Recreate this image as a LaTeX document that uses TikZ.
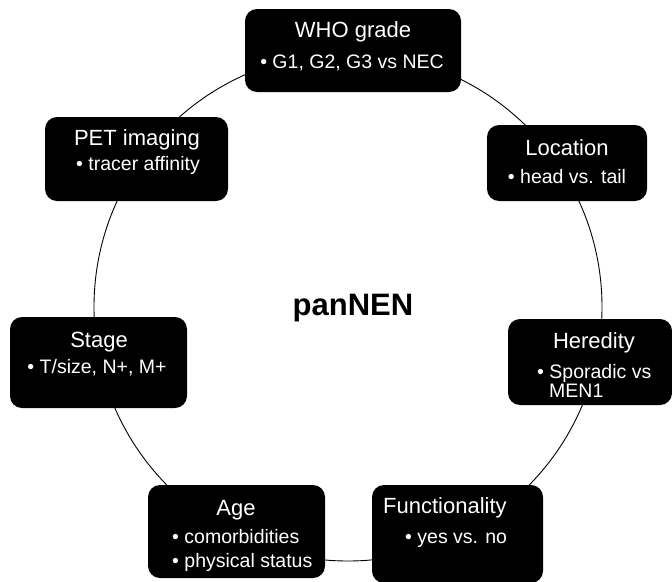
\documentclass[tikz,border=0pt]{standalone}
\usepackage{fontspec}
\setmainfont{Liberation Sans}
\begin{document}
\begin{tikzpicture}[x=1pt,y=-1pt,
  card/.style={fill=black,draw=none,rounded corners=12pt,inner sep=0pt},
  ttl/.style={text=white,inner sep=0pt,font=\fontsize{19.5}{22}\selectfont},
  head/.style={text=white,inner sep=0pt,font=\fontsize{22}{25}\selectfont},
  ring/.style={draw=black,line width=0.9pt}]
\useasboundingbox (0,0) rectangle (672,581);
\coordinate (ctr) at (348,307);
\draw[ring] (ctr) circle[radius=254pt];
\node[text=black,inner sep=0pt,font=\bfseries\fontsize{31}{34}\selectfont,anchor=base] (pan) at (353,315) {panNEN};
% boxes
\node[card,minimum width=216pt,minimum height=83pt] (who) at (353,50.5) {};
\node[card,minimum width=160pt,minimum height=76pt] (loc) at (567,163) {};
\node[card,minimum width=164pt,minimum height=86pt] (her) at (590,362) {};
\node[card,minimum width=171pt,minimum height=98pt] (fun) at (457.5,534) {};
\node[card,minimum width=177pt,minimum height=93pt] (age) at (236.5,531.5) {};
\node[card,minimum width=177pt,minimum height=91pt] (sta) at (98.5,362.5) {};
\node[card,minimum width=183pt,minimum height=84pt] (pet) at (136.5,159) {};
% texts
\node[head,anchor=base] (who1) at (353,37) {WHO grade};
\node[ttl,anchor=base] (who2) at (352,68) {• G1, G2, G3 vs NEC};
\node[head,anchor=base] (loc1) at (567,155) {Location};
\node[ttl,anchor=base] (loc2) at (567,183) {• head vs. tail};
\node[head,anchor=base] (her1) at (594,348) {Heredity};
\node[ttl,anchor=base west] (her2) at (537,378) {• Sporadic vs};
\node[ttl,anchor=base west] (her3) at (549,397) {MEN1};
\node[head,anchor=base west] (fun1) at (383,513) {Functionality};
\node[ttl,anchor=base west] (fun2) at (405,543) {• yes vs. no};
\node[head,anchor=base] (age1) at (236,515) {Age};
\node[ttl,anchor=base west] (age2) at (172,543) {• comorbidities};
\node[ttl,anchor=base west] (age3) at (172,567) {• physical status};
\node[head,anchor=base] (sta1) at (99,347) {Stage};
\node[ttl,anchor=base] (sta2) at (97,373) {• T/size, N+, M+};
\node[head,anchor=base] (pet1) at (137,145) {PET imaging};
\node[ttl,anchor=base] (pet2) at (138,170) {• tracer affinity};
\end{tikzpicture}
\end{document}
